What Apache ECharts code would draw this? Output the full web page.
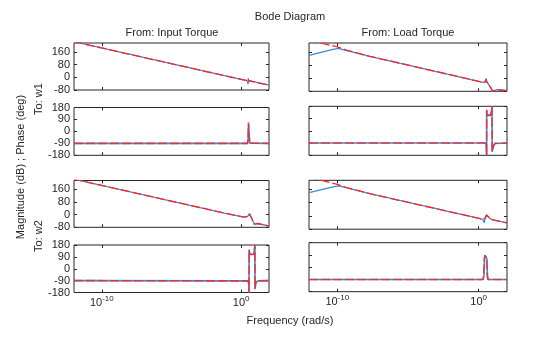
<!DOCTYPE html>
<html>
<head>
<meta charset="utf-8">
<script src="https://cdn.jsdelivr.net/npm/echarts@6/dist/echarts.min.js"></script>
<style>
html,body{margin:0;padding:0;background:#fff;}
#c{width:560px;height:337px;}
</style>
</head>
<body>
<div id="c"></div>
<script>
// ---- data: x = log10(frequency in rad/s), y = dB or deg ----
const xTicks = [-10, 0];
const magTicks = [-80, 0, 80, 160];
const phaseTicks = [-180, -90, 0, 90, 180];
const colTitles = ['From: Input Torque', 'From: Load Torque'];
const rowTitles = ['To: w1', 'To: w2'];

// From Input Torque -> w1
const magIn1Blue = [[-12,223],[-1.2,10],[0.42,-21],[0.47,-24],[0.5,-42],[0.53,-20],[0.6,-24],[2,-50]];
const magIn1Red  = [[-12,223],[-1.2,10],[0.42,-21],[0.47,-18],[0.5,-6],[0.53,-22],[0.6,-24],[2,-50]];
const phIn1Blue  = [[-12,-90],[0.46,-90],[0.5,-60],[0.53,55],[0.57,-20],[0.62,-88],[2,-90]];
const phIn1Red   = [[-12,-90],[0.46,-90],[0.5,-50],[0.53,68],[0.57,-30],[0.62,-88],[2,-90]];
// From Input Torque -> w2
const magIn2Blue = [[-12,223],[-1.2,10],[0.2,-16],[0.45,-12],[0.55,-2],[0.6,2],[0.63,-4],[0.95,-60],[1.0,-64],[1.08,-52],[1.2,-56],[2,-72]];
const magIn2Red  = [[-12,223],[-1.2,10],[0.2,-16],[0.45,-11],[0.55,0],[0.6,6],[0.63,-4],[0.95,-60],[1.0,-62],[1.08,-50],[1.2,-56],[2,-72]];
const phIn2Blue  = [[-12,-90],[0.5,-92],[0.55,-110],[0.567,-180],[0.572,145],[0.62,110],[0.7,103],[0.9,108],[0.96,150],[0.99,180],[0.995,-150],[1.05,-105],[1.2,-92],[2,-90]];
const phIn2Red   = [[-12,-90],[0.5,-92],[0.55,-115],[0.567,-180],[0.572,140],[0.62,112],[0.7,104],[0.9,110],[0.96,155],[0.99,180],[0.995,-155],[1.05,-108],[1.2,-92],[2,-90]];
// From Load Torque -> w1
const magLd1Blue = [[-12,140],[-10.3,176],[-9.93,182],[-9.6,175],[-7.7,134],[-1.46,10],[0.3,-26],[0.45,-22],[0.52,-2],[0.56,-20],[0.88,-62],[0.97,-80],[1.1,-68],[1.3,-70],[2,-76]];
const magLd1Red  = [[-12,233],[-10,191],[-9.3,170],[-7.7,134],[-1.46,10],[0.3,-26],[0.45,-24],[0.52,-6],[0.56,-22],[0.88,-62],[0.97,-80],[1.1,-68],[1.3,-70],[2,-76]];
const phLd1Blue  = [[-12,-90],[0.5,-90],[0.54,-120],[0.56,-180],[0.565,150],[0.6,115],[0.85,112],[0.92,150],[0.94,180],[0.95,-155],[1.05,-110],[1.15,-93],[2,-90]];
const phLd1Red   = [[-12,-90],[0.5,-90],[0.54,-125],[0.56,-180],[0.565,155],[0.6,118],[0.85,114],[0.92,155],[0.94,180],[0.95,-150],[1.05,-108],[1.15,-92],[2,-90]];
// From Load Torque -> w2
const magLd2Blue = [[-12,140],[-10.3,176],[-9.93,182],[-9.6,175],[-7.7,134],[0.1,-16],[0.3,-22],[0.38,-42],[0.45,-18],[0.55,4],[0.62,-2],[0.8,-16],[1.0,-24],[2,-42]];
const magLd2Red  = [[-12,233],[-10,191],[-9.3,170],[-7.7,134],[0.1,-16],[0.3,-22],[0.38,-32],[0.45,-12],[0.55,7],[0.62,-2],[0.8,-16],[1.0,-24],[2,-42]];
const phLd2Blue  = [[-12,-90],[0.32,-90],[0.37,-60],[0.41,60],[0.46,88],[0.53,88],[0.58,60],[0.62,-60],[0.66,-90],[2,-90]];
const phLd2Red   = [[-12,-90],[0.3,-90],[0.35,-60],[0.39,60],[0.44,88],[0.51,88],[0.56,60],[0.6,-60],[0.64,-90],[2,-90]];

// ---- layout ----
const colLeft = [74, 309];
const colWidth = [195, 198];
const rowTop = [[43, 107.5, 180.5, 245], [43, 106.3, 180.3, 242.7]];
const rowH   = [[47, 47.8, 46.8, 47.5], [48.3, 49, 48.9, 49]];
const BLUE = '#3d8bd4';
const RED = '#ff2424';
const INK = '#262626';
const FONT = 'Liberation Sans, Arial, Helvetica, sans-serif';

const panels = [
  {c:0, r:0, kind:'mag', blue:magIn1Blue, red:magIn1Red},
  {c:0, r:1, kind:'ph',  blue:phIn1Blue,  red:phIn1Red},
  {c:0, r:2, kind:'mag', blue:magIn2Blue, red:magIn2Red},
  {c:0, r:3, kind:'ph',  blue:phIn2Blue,  red:phIn2Red},
  {c:1, r:0, kind:'mag', blue:magLd1Blue, red:magLd1Red},
  {c:1, r:1, kind:'ph',  blue:phLd1Blue,  red:phLd1Red},
  {c:1, r:2, kind:'mag', blue:magLd2Blue, red:magLd2Red},
  {c:1, r:3, kind:'ph',  blue:phLd2Blue,  red:phLd2Red}
];

const grid = [], xAxis = [], yAxis = [], series = [];
panels.forEach((p, i) => {
  grid.push({left: colLeft[p.c], top: rowTop[p.c][p.r], width: colWidth[p.c], height: rowH[p.c][p.r],
    show: true, borderColor: INK, borderWidth: 1, backgroundColor: '#fff'});
  const isMag = p.kind === 'mag';
  const yMin = isMag ? -80 : -180, yMax = isMag ? 215 : 180;
  const yt = isMag ? magTicks : phaseTicks;
  const lw = isMag ? 1.3 : 1.6;
  ['bottom', 'top'].forEach(pos => {
    xAxis.push({gridIndex: i, type: 'value', min: -12, max: 2, position: pos,
      axisLine: {show: false, onZero: false}, splitLine: {show: false},
      axisTick: {show: true, inside: true, length: 3, customValues: xTicks, lineStyle: {color: INK}},
      axisLabel: {show: pos === 'bottom' && p.r === 3, customValues: xTicks, margin: 2,
        formatter: v => '{b|10}{s|' + v + '}',
        rich: {b: {fontSize: 11, fontFamily: FONT, color: INK, lineHeight: 14, verticalAlign: 'bottom'},
               s: {fontSize: 8, fontFamily: FONT, color: INK, lineHeight: 14, verticalAlign: 'top'}}}
    });
  });
  ['left', 'right'].forEach(pos => {
    yAxis.push({gridIndex: i, type: 'value', min: yMin, max: yMax, position: pos,
      axisLine: {show: false, onZero: false}, splitLine: {show: false},
      axisTick: {show: true, inside: true, length: 3, customValues: yt, lineStyle: {color: INK}},
      axisLabel: {show: pos === 'left' && p.c === 0, customValues: yt, margin: 4,
        fontSize: 11, fontFamily: FONT, color: INK}
    });
  });
  series.push({type: 'line', xAxisIndex: 2*i, yAxisIndex: 2*i, data: p.blue, showSymbol: false,
    clip: true, silent: true, lineStyle: {color: BLUE, width: lw}, z: 2});
  series.push({type: 'line', xAxisIndex: 2*i, yAxisIndex: 2*i, data: p.red, showSymbol: false,
    clip: true, silent: true, lineStyle: {color: RED, width: lw, type: [9, 3], opacity: isMag ? 1 : 0.8}, z: 3});
});

const txt = (text, x, y, rot) => ({type: 'text', x: x, y: y, rotation: rot || 0, z: 100,
  style: {text: text, x: 0, y: 0, align: 'center', verticalAlign: 'middle', font: '11px ' + FONT, fill: INK}});

const graphic = [
  txt('Bode Diagram', 290, 17),
  txt(colTitles[0], 172, 33),
  txt(colTitles[1], 408, 33),
  txt('Frequency (rad/s)', 290, 321),
  txt('Magnitude (dB) ; Phase (deg)', 21, 167, Math.PI / 2),
  txt(rowTitles[0], 39, 99, Math.PI / 2),
  txt(rowTitles[1], 39, 236, Math.PI / 2)
];

const chart = echarts.init(document.getElementById('c'), null, {renderer: 'canvas'});
chart.setOption({animation: false, backgroundColor: '#fff', grid, xAxis, yAxis, series, graphic});
</script>
</body>
</html>
